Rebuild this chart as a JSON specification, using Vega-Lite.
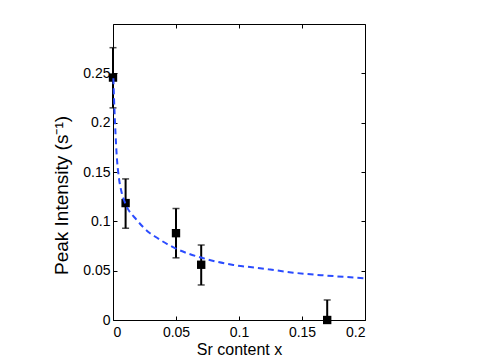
{
  "$schema": "https://vega.github.io/schema/vega-lite/v6.json",
  "width": 252,
  "height": 296,
  "autosize": "none",
  "padding": {"left": 113, "top": 24, "right": 120, "bottom": 43},
  "background": "white",
  "config": {
    "view": {"stroke": null},
    "font": "Liberation Sans",
    "axis": {
      "grid": false,
      "domainColor": "black",
      "domainWidth": 1,
      "tickColor": "black",
      "tickSize": -4,
      "labelFont": "Liberation Sans",
      "labelFontSize": 14,
      "labelColor": "black",
      "titleFont": "Liberation Sans",
      "titleFontSize": 16,
      "titleFontWeight": "normal",
      "titleColor": "black"
    }
  },
  "datasets": {
    "pts": [
      {"x": 0, "y": 0.2457, "lo": 0.215, "hi": 0.276},
      {"x": 0.01, "y": 0.1185, "lo": 0.093, "hi": 0.143},
      {"x": 0.05, "y": 0.088, "lo": 0.063, "hi": 0.113},
      {"x": 0.07, "y": 0.056, "lo": 0.0355, "hi": 0.076},
      {"x": 0.17, "y": 0, "lo": 0, "hi": 0.0203}
    ],
    "fit": [
      {"x": 0.0003, "y": 0.245},
      {"x": 0.0008, "y": 0.225},
      {"x": 0.0016, "y": 0.2},
      {"x": 0.0032, "y": 0.162},
      {"x": 0.0042, "y": 0.149},
      {"x": 0.0069, "y": 0.129},
      {"x": 0.0095, "y": 0.119},
      {"x": 0.0188, "y": 0.1015},
      {"x": 0.0294, "y": 0.088},
      {"x": 0.0333, "y": 0.0846},
      {"x": 0.0492, "y": 0.0728},
      {"x": 0.0717, "y": 0.0626},
      {"x": 0.0955, "y": 0.0558},
      {"x": 0.1167, "y": 0.0525},
      {"x": 0.1233, "y": 0.0514},
      {"x": 0.143, "y": 0.048},
      {"x": 0.1696, "y": 0.045},
      {"x": 0.2, "y": 0.0423}
    ]
  },
  "resolve": {"axis": {"x": "independent", "y": "independent"}},
  "layer": [
    {
      "data": {"name": "pts"},
      "mark": {"type": "point", "opacity": 0},
      "encoding": {
        "x": {"field": "x", "type": "quantitative", "scale": {"domain": [0, 0.2], "nice": false, "zero": false},
          "axis": {"orient": "top", "labels": false, "title": null, "values": [0, 0.05, 0.1, 0.15, 0.2]}},
        "y": {"field": "y", "type": "quantitative", "scale": {"domain": [0, 0.3], "nice": false, "zero": false},
          "axis": {"orient": "right", "labels": false, "title": null, "values": [0, 0.05, 0.1, 0.15, 0.2, 0.25]}}
      }
    },
    {
      "data": {"name": "pts"},
      "mark": {"type": "errorbar", "color": "black", "thickness": 2, "ticks": {"size": 7, "thickness": 1.5}},
      "encoding": {
        "x": {"field": "x", "type": "quantitative", "axis": null},
        "y": {"field": "lo", "type": "quantitative", "axis": null},
        "y2": {"field": "hi"}
      }
    },
    {
      "data": {"name": "pts"},
      "mark": {"type": "square", "filled": true, "color": "black", "size": 70, "opacity": 1},
      "encoding": {
        "x": {"field": "x", "type": "quantitative", "axis": null},
        "y": {"field": "y", "type": "quantitative", "axis": null}
      }
    },
    {
      "data": {"name": "fit"},
      "mark": {"type": "line", "color": "#2b4cff", "strokeWidth": 2, "strokeDash": [6, 4], "interpolate": "monotone"},
      "encoding": {
        "x": {"field": "x", "type": "quantitative",
          "axis": {"orient": "bottom", "title": "Sr content x", "values": [0, 0.05, 0.1, 0.15, 0.2], "format": "~g",
            "labelPadding": 9, "titleY": 34, "titleBaseline": "alphabetic"}},
        "y": {"field": "y", "type": "quantitative",
          "axis": {"orient": "left", "title": "Peak Intensity (s⁻¹)", "values": [0, 0.05, 0.1, 0.15, 0.2, 0.25], "format": "~g",
            "labelPadding": 7, "titleFontSize": 19, "titleX": -51.5, "titleY": 171, "titleBaseline": "middle", "titleAlign": "center", "titleAngle": 270}}
      }
    }
  ]
}
